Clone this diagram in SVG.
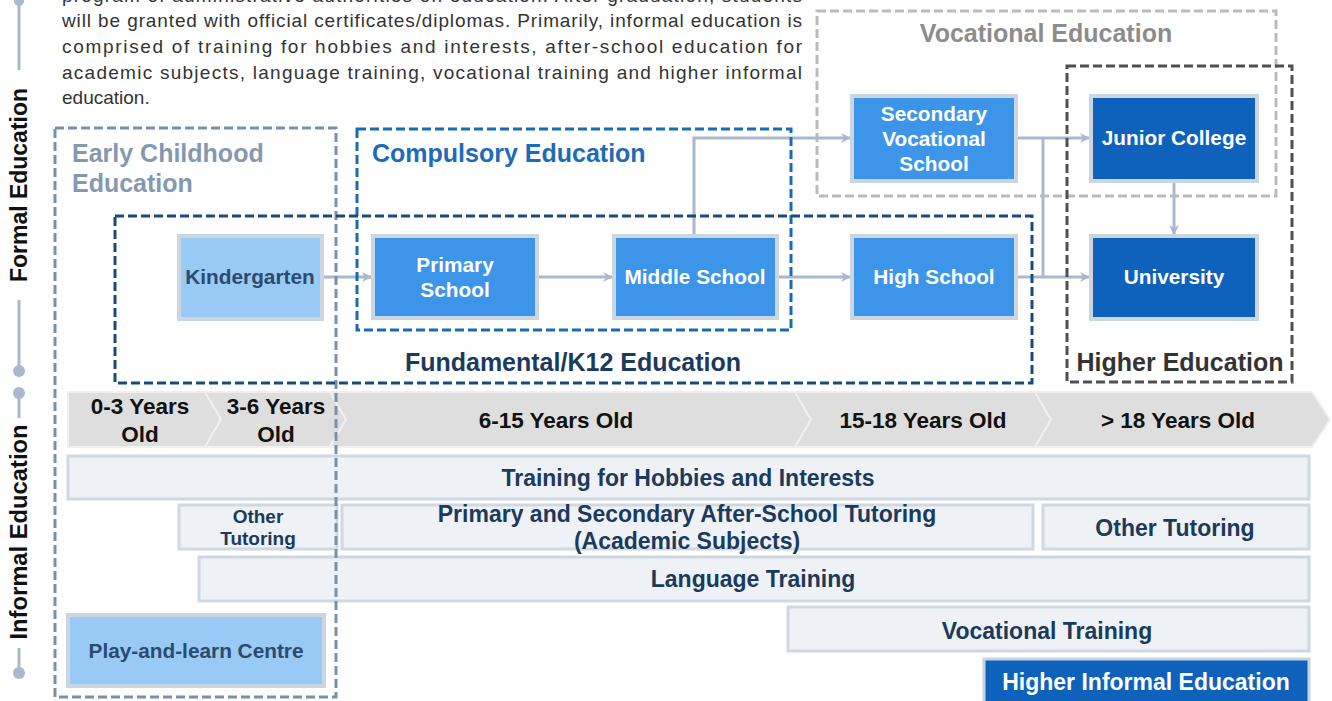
<svg xmlns="http://www.w3.org/2000/svg" width="1332" height="701" viewBox="0 0 1332 701">
<style>
.para{font-family:"Liberation Sans",Arial,sans-serif;font-size:19px;fill:#333}
.side{font-family:"Liberation Sans",Arial,sans-serif;font-size:23px;font-weight:bold;fill:#111}
.grp{font-family:"Liberation Sans",Arial,sans-serif;font-size:25px;font-weight:bold}
.nd{stroke:#ccd6e0;stroke-width:4}
.lt{fill:#99c9f5}
.md{fill:#3d95ea}
.dk{fill:#0e62bb}
.nt{font-family:"Liberation Sans",Arial,sans-serif;font-size:20.8px;font-weight:bold;text-anchor:middle}
.w{fill:#fff}
.d{fill:#2b4b6f}
.age{fill:#dedede;stroke:#f0f0f0;stroke-width:2}
.at{font-family:"Liberation Sans",Arial,sans-serif;font-size:22.5px;font-weight:bold;fill:#111;text-anchor:middle}
.bar{fill:#eef1f5;stroke:#d0d9e3;stroke-width:3}
.bt{font-family:"Liberation Sans",Arial,sans-serif;font-size:23px;font-weight:bold;fill:#1b3a5c;text-anchor:middle}
.conn{fill:none;stroke:#a9b8cc;stroke-width:3}
.sl{stroke:#a9b8cc;stroke-width:3}
.dot{fill:#a9b8cc}
</style>
<defs>
<marker id="arr" markerWidth="12" markerHeight="12" refX="10" refY="6" orient="auto" markerUnits="userSpaceOnUse">
<path d="M1,1 L11,6 L1,11 L4,6 Z" fill="#a9b8cc"/>
</marker>
</defs>
<rect width="1332" height="701" fill="#fff"/>

<g id="intro-text">
<text class="para" x="62" y="2" textLength="740" lengthAdjust="spacing">program of administrative authorities on education. After graduation, students</text>
<text class="para" x="62" y="27" textLength="740" lengthAdjust="spacing">will be granted with official certificates/diplomas. Primarily, informal education is</text>
<text class="para" x="62" y="53" textLength="740" lengthAdjust="spacing">comprised of training for hobbies and interests, after-school education for</text>
<text class="para" x="62" y="79" textLength="740" lengthAdjust="spacing">academic subjects, language training, vocational training and higher informal</text>
<text class="para" x="62" y="104">education.</text>
</g>

<g id="side-axis">
<line class="sl" x1="19" y1="0" x2="19" y2="70"/>
<circle class="dot" cx="19" cy="1" r="5"/>
<text class="side" transform="translate(27,185) rotate(-90)" text-anchor="middle" textLength="194" lengthAdjust="spacingAndGlyphs">Formal Education</text>
<line class="sl" x1="19" y1="300" x2="19" y2="370"/>
<circle class="dot" cx="19" cy="371" r="6"/>
<circle class="dot" cx="19" cy="393" r="6"/>
<line class="sl" x1="19" y1="393" x2="19" y2="418"/>
<text class="side" transform="translate(27,532) rotate(-90)" text-anchor="middle" textLength="215" lengthAdjust="spacingAndGlyphs">Informal Education</text>
<line class="sl" x1="19" y1="648" x2="19" y2="672"/>
<circle class="dot" cx="19" cy="673" r="6"/>
</g>

<g id="age-band">
<polygon class="age" points="68,392 205,392 221,419.5 205,447 68,447"/>
<polygon class="age" points="205,392 330,392 346,419.5 330,447 205,447 221,419.5"/>
<polygon class="age" points="330,392 795,392 811,419.5 795,447 330,447 346,419.5"/>
<polygon class="age" points="795,392 1035,392 1051,419.5 1035,447 795,447 811,419.5"/>
<polygon class="age" points="1035,392 1312,392 1330,419.5 1312,447 1035,447 1051,419.5"/>
<text class="at" x="140" y="414">0-3 Years</text>
<text class="at" x="140" y="442">Old</text>
<text class="at" x="276" y="414">3-6 Years</text>
<text class="at" x="276" y="442">Old</text>
<text class="at" x="556" y="428">6-15 Years Old</text>
<text class="at" x="923" y="428">15-18 Years Old</text>
<text class="at" x="1178" y="428">&gt; 18 Years Old</text>
</g>

<g id="informal">
<g id="hobbies"><rect class="bar" x="68" y="456" width="1241" height="43"/><text class="bt" x="688" y="486">Training for Hobbies and Interests</text></g>
<g id="other-tutoring-young"><rect class="bar" x="179" y="505" width="158" height="44"/><text class="bt" x="258" y="523" style="font-size:19px">Other</text><text class="bt" x="258" y="545" style="font-size:19px">Tutoring</text></g>
<g id="after-school"><rect class="bar" x="342" y="505" width="691" height="44"/><text class="bt" x="687" y="522">Primary and Secondary After-School Tutoring</text><text class="bt" x="687" y="549">(Academic Subjects)</text></g>
<g id="other-tutoring-adult"><rect class="bar" x="1043" y="505" width="266" height="44"/><text class="bt" x="1175" y="536">Other Tutoring</text></g>
<g id="language"><rect class="bar" x="199" y="557" width="1110" height="44"/><text class="bt" x="753" y="587">Language Training</text></g>
<g id="vocational-training"><rect class="bar" x="788" y="607" width="521" height="44"/><text class="bt" x="1047" y="639">Vocational Training</text></g>
<g id="higher-informal"><rect x="984" y="659" width="325" height="44" fill="#0e62bb" stroke="#c8d3df" stroke-width="3"/><text class="bt" x="1146" y="690" style="fill:#fff">Higher Informal Education</text></g>
<g id="play-and-learn"><rect class="nd lt" x="68" y="615" width="256" height="71"/><text class="bt" x="196" y="658" style="fill:#2b4b6f;font-size:20.8px">Play-and-learn Centre</text></g>
</g>

<g id="connectors">
<line class="conn" x1="322" y1="277" x2="371" y2="277" marker-end="url(#arr)"/>
<line class="conn" x1="537" y1="277" x2="612" y2="277" marker-end="url(#arr)"/>
<line class="conn" x1="777" y1="277" x2="850" y2="277" marker-end="url(#arr)"/>
<polyline class="conn" points="694,235 694,138 850,138" marker-end="url(#arr)"/>
<line class="conn" x1="1016" y1="138" x2="1089" y2="138" marker-end="url(#arr)"/>
<line class="conn" x1="1043" y1="138" x2="1043" y2="277"/>
<line class="conn" x1="1016" y1="277" x2="1089" y2="277" marker-end="url(#arr)"/>
<line class="conn" x1="1174" y1="181" x2="1174" y2="234" marker-end="url(#arr)"/>
</g>

<g id="nodes">
<g id="kindergarten"><rect class="nd lt" x="179" y="236" width="143" height="83"/><text class="nt d" x="250" y="284">Kindergarten</text></g>
<g id="primary"><rect class="nd md" x="373" y="236" width="164" height="82"/><text class="nt w" x="455" y="272">Primary</text><text class="nt w" x="455" y="297">School</text></g>
<g id="middle"><rect class="nd md" x="614" y="236" width="163" height="82"/><text class="nt w" x="695" y="284">Middle School</text></g>
<g id="high"><rect class="nd md" x="852" y="236" width="164" height="82"/><text class="nt w" x="934" y="284">High School</text></g>
<g id="secondary-vocational"><rect class="nd md" x="852" y="96" width="164" height="85"/><text class="nt w" x="934" y="121">Secondary</text><text class="nt w" x="934" y="146">Vocational</text><text class="nt w" x="934" y="171">School</text></g>
<g id="junior-college"><rect class="nd dk" x="1091" y="96" width="166" height="85"/><text class="nt w" x="1174" y="145">Junior College</text></g>
<g id="university"><rect class="nd dk" x="1091" y="236" width="166" height="83"/><text class="nt w" x="1174" y="284">University</text></g>
</g>

<g id="groups">
<g id="early-childhood"><rect x="55" y="128" width="281" height="569" fill="none" stroke="#7890a8" stroke-width="3" stroke-dasharray="9,4"/><text class="grp" x="72" y="162" fill="#8499b1">Early Childhood</text><text class="grp" x="72" y="192" fill="#8499b1">Education</text></g>
<g id="compulsory"><rect x="357" y="129" width="434" height="201" fill="none" stroke="#1a6bb5" stroke-width="3" stroke-dasharray="9,4"/><text class="grp" x="372" y="162" fill="#1e6bb8">Compulsory Education</text></g>
<g id="fundamental"><rect x="115" y="216" width="917" height="167" fill="none" stroke="#1a4a7a" stroke-width="3" stroke-dasharray="9,4"/><text class="grp" x="573" y="371" fill="#1b3a5c" text-anchor="middle">Fundamental/K12 Education</text></g>
<g id="vocational"><rect x="817" y="11" width="459" height="185" fill="none" stroke="#bbbbbb" stroke-width="3" stroke-dasharray="9,4"/><text class="grp" x="1046" y="42" fill="#8c8c8c" text-anchor="middle">Vocational Education</text></g>
<g id="higher"><rect x="1067" y="66" width="225" height="316" fill="none" stroke="#505050" stroke-width="3" stroke-dasharray="9,4"/><text class="grp" x="1180" y="371" fill="#333" text-anchor="middle">Higher Education</text></g>
</g>
</svg>
